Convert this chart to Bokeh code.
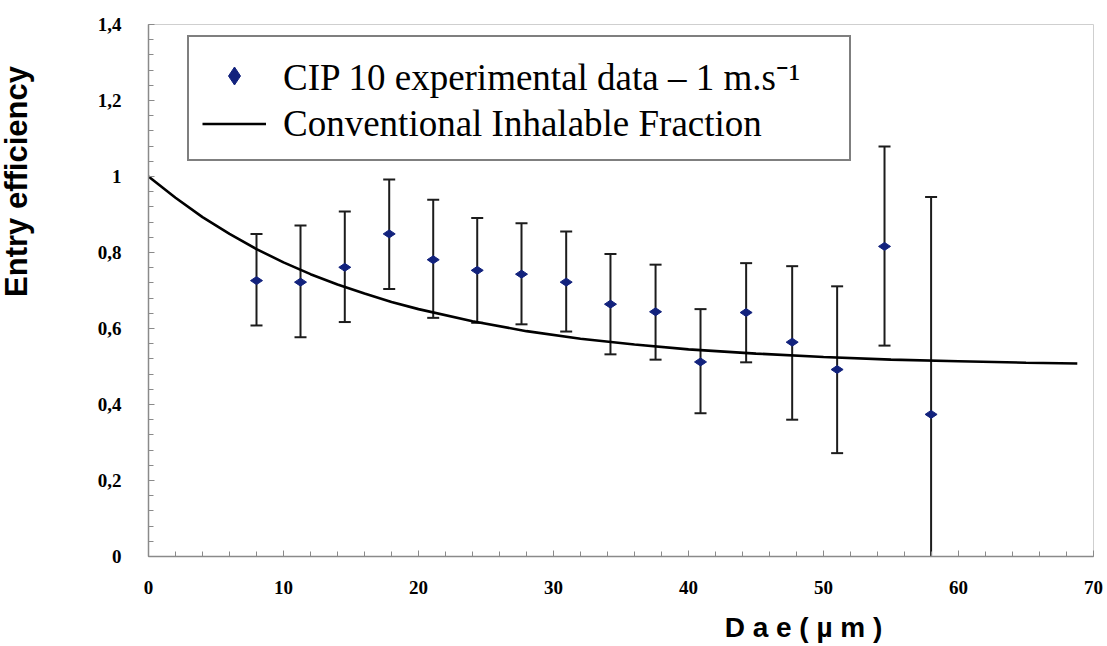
import math
from bokeh.plotting import figure
from bokeh.models import (Range1d, FixedTicker, CustomJSTickFormatter, Label,
                          Legend, LegendItem, ColumnDataSource)
from bokeh.embed import file_html
from bokeh.resources import INLINE

# ---- data ----
dae = [8.0, 11.26, 14.54, 17.83, 21.09, 24.35, 27.63, 30.94,
       34.22, 37.56, 40.89, 44.27, 47.68, 51.01, 54.52, 57.97]
efficiency = [0.726, 0.722, 0.761, 0.849, 0.781, 0.753, 0.743, 0.722,
              0.664, 0.644, 0.512, 0.642, 0.564, 0.492, 0.816, 0.374]
err_upper = [0.849, 0.871, 0.908, 0.992, 0.939, 0.891, 0.877, 0.855,
             0.796, 0.768, 0.651, 0.772, 0.764, 0.711, 1.079, 0.946]
err_lower = [0.608, 0.577, 0.617, 0.704, 0.628, 0.615, 0.611, 0.592,
             0.532, 0.518, 0.377, 0.511, 0.360, 0.272, 0.555, -0.198]

curve_x = [0, 2, 4, 6, 8, 10, 12, 14, 16, 18, 20, 24, 28, 32, 36, 40,
           45, 50, 55, 60, 65, 68.8]
curve_y = [1.0, 0.944, 0.893, 0.849, 0.809, 0.774, 0.743, 0.716, 0.692,
           0.670, 0.651, 0.619, 0.593, 0.573, 0.558, 0.545, 0.534, 0.525,
           0.518, 0.514, 0.510, 0.508]

x_ticks = [0, 10, 20, 30, 40, 50, 60, 70]
y_ticks = [0, 0.2, 0.4, 0.6, 0.8, 1.0, 1.2, 1.4]

series_label = "CIP 10 experimental data \u2013 1 m.s\u207b\u00b9"
curve_label = "Conventional Inhalable Fraction"
x_title = "D a e ( \u00b5 m )"
y_title = "Entry efficiency"

NAVY = "#12227d"
AXIS_GRAY = "#8a8a8a"

p = figure(width=1107, height=646, output_backend="svg", toolbar_location=None,
           x_range=Range1d(0, 70), y_range=Range1d(0, 1.4))
p.min_border_left = 148
p.min_border_right = 14
p.min_border_top = 24
p.min_border_bottom = 90
p.background_fill_color = "white"
p.border_fill_color = "white"
p.outline_line_color = "#cfcfcf"
p.outline_line_width = 1
p.xgrid.visible = False
p.ygrid.visible = False

src = ColumnDataSource(dict(x=dae, y=efficiency, up=err_upper, lo=err_lower))

# error bars
p.segment(x0="x", y0="lo", x1="x", y1="up", source=src,
          line_color="#1c1c1c", line_width=2)
p.scatter(x="x", y="up", source=src, marker="dash", size=12,
          line_color="#1c1c1c", line_width=2)
p.scatter(x="x", y="lo", source=src, marker="dash", size=12,
          line_color="#1c1c1c", line_width=2)

# curve
curve = p.line(curve_x, curve_y, line_color="black", line_width=2.6)

# data markers
p.scatter(x="x", y="y", source=src, marker="diamond", size=12,
          angle=math.pi / 2, fill_color=NAVY, line_color=NAVY)

# legend-only marker (no visible data)
leg_marker = p.scatter(x=[float("nan")], y=[float("nan")], marker="diamond",
                       fill_color=NAVY, line_color=NAVY)

legend = Legend(items=[LegendItem(label=series_label, renderers=[leg_marker]),
                       LegendItem(label=curve_label, renderers=[curve])],
                location=(39, 395))
legend.label_text_font = "Liberation Serif"
legend.label_text_font_size = "37px"
legend.label_text_color = "black"
legend.glyph_width = 64
legend.glyph_height = 45
legend.label_height = 45
legend.label_width = 553
legend.label_standoff = 17
legend.spacing = 0
legend.padding = 13
legend.margin = 0
legend.border_line_color = "black"
legend.border_line_width = 2
legend.background_fill_color = "white"
legend.background_fill_alpha = 1.0
p.add_layout(legend, "center")

# axes
for ax in (p.xaxis[0], p.yaxis[0]):
    ax.axis_line_color = AXIS_GRAY
    ax.axis_line_width = 1.5
    ax.major_tick_line_color = AXIS_GRAY
    ax.minor_tick_line_color = AXIS_GRAY
    ax.major_tick_in = 6
    ax.major_tick_out = 0
    ax.minor_tick_in = 5
    ax.minor_tick_out = 0
    ax.major_label_text_font = "Liberation Serif"
    ax.major_label_text_font_style = "bold"
    ax.major_label_text_font_size = "19px"
    ax.major_label_text_color = "black"

p.xaxis[0].ticker = FixedTicker(ticks=x_ticks,
                                minor_ticks=[v for v in range(0, 71, 2)])
p.yaxis[0].ticker = FixedTicker(ticks=y_ticks,
                                minor_ticks=[round(i * 0.04, 2) for i in range(36)])
p.yaxis[0].formatter = CustomJSTickFormatter(
    code="return (Math.round(tick*10)/10).toString().replace('.', ',');")
p.xaxis[0].major_label_standoff = 24
p.yaxis[0].major_label_standoff = 27

# axis titles as labels in the side panels
p.add_layout(Label(x=-43, y=375, x_units="screen", y_units="screen",
                   text=y_title, angle=math.pi / 2, text_align="center",
                   text_baseline="alphabetic", text_font="Liberation Sans",
                   text_font_style="bold", text_font_size="31px",
                   text_color="black"), "left")
p.add_layout(Label(x=655, y=0, x_units="screen", y_units="screen",
                   text=x_title, text_align="center",
                   text_baseline="alphabetic", text_font="Liberation Sans",
                   text_font_style="bold", text_font_size="28px",
                   text_color="black"), "below")

open("out.html", "w").write(file_html(p, INLINE))
